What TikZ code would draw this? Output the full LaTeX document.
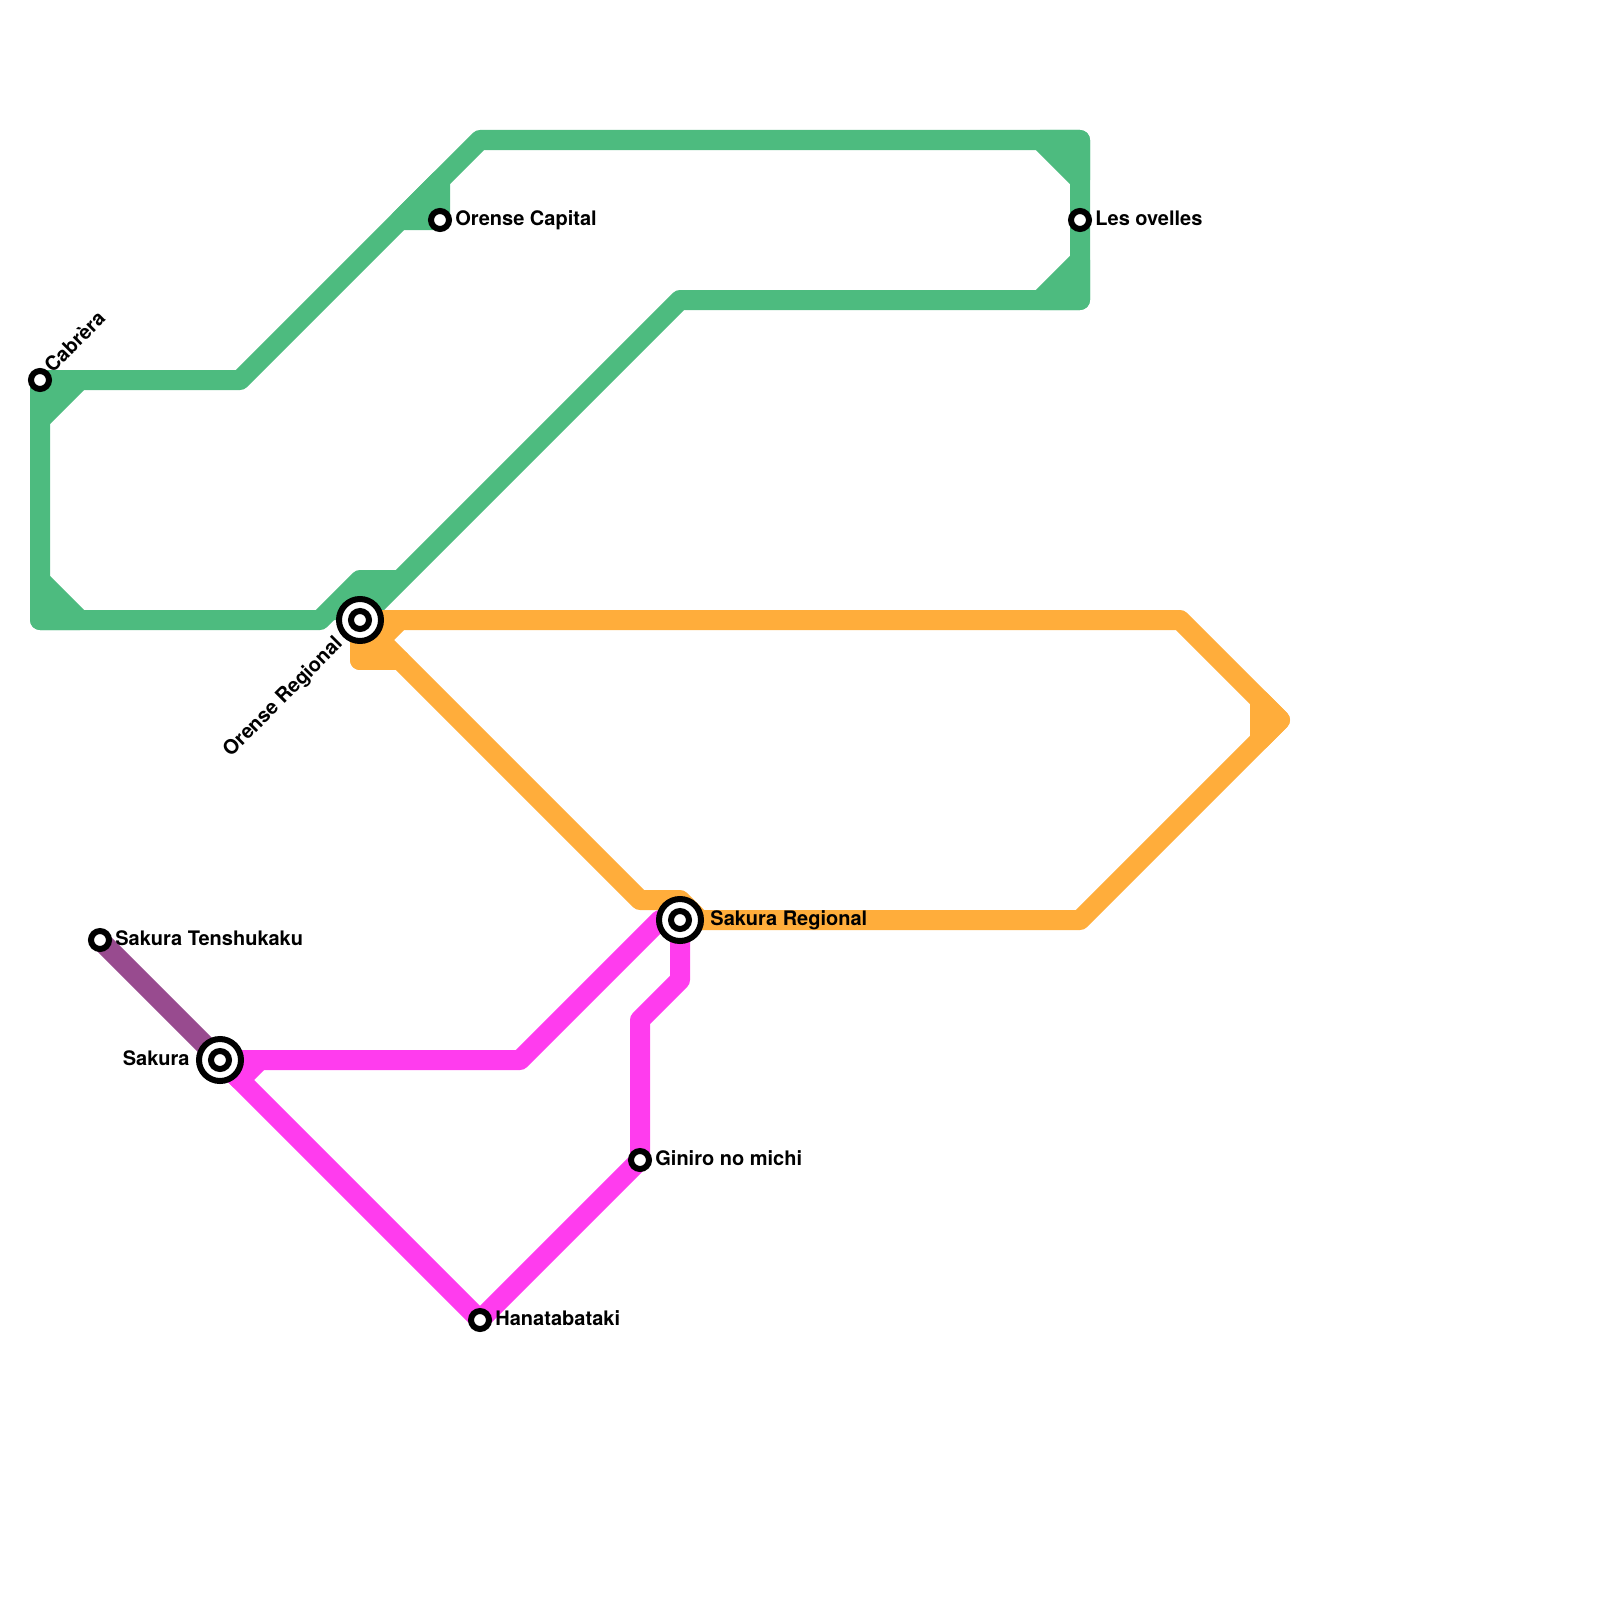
\documentclass[tikz,border=0pt]{standalone}
\usepackage{fontspec}
\setmainfont{TeX Gyre Heros}
\definecolor{lgreen}{HTML}{4DBB7F}
\definecolor{lorange}{HTML}{FFAD3B}
\definecolor{lpink}{HTML}{FF3CEE}
\definecolor{lpurple}{HTML}{984B8F}
\tikzset{
  x=0.5pt,y=-0.5pt,
  metro/.style={line width=10pt,line join=round,line cap=round},
  tube/.style={line width=10pt,line cap=butt},
  smallstn/.style={circle,draw=black,fill=white,line width=3pt,outer sep=0pt,minimum size=9pt,inner sep=0pt},
  bigstn/.style={circle,draw=black,fill=white,line width=3pt,outer sep=0pt,minimum size=21pt,inner sep=0pt},
  stnlabel/.style={font=\fontsize{10pt}{12pt}\selectfont\bfseries,inner sep=0pt,text=black},
}
\begin{document}
\begin{tikzpicture}
\useasboundingbox (0,0) rectangle (1600,1600);
% stations positions
\coordinate (cab) at (40,380);
\coordinate (ore) at (360,620);
\coordinate (cap) at (440,220);
\coordinate (ove) at (1080,220);
\coordinate (ten) at (100,940);
\coordinate (sak) at (220,1060);
\coordinate (reg) at (680,920);
\coordinate (gin) at (640,1160);
\coordinate (han) at (480,1320);
% green
\draw[metro,lgreen] (ore) -- (680,300) -- (1080,300) -- (1080,140) -- (480,140) -- (240,380) -- (cab) -- (40,620) -- (320,620) -- (360,580) -- (396,580);
\draw[metro,lgreen,fill=lgreen] (40,380) -- (40,420) -- (80,380) -- cycle;
\draw[metro,lgreen,fill=lgreen] (40,580) -- (80,620) -- (40,620) -- cycle;
\draw[metro,lgreen,fill=lgreen] (1040,140) -- (1080,180) -- (1080,140) -- cycle;
\draw[metro,lgreen,fill=lgreen] (1040,300) -- (1080,260) -- (1080,300) -- cycle;
\draw[metro,lgreen,fill=lgreen] (cap) -- (400,220) -- (440,180) -- cycle;
\fill[lgreen] (320,620) -- (360,580) -- (400,580) -- (360,620) -- cycle;
% orange
\draw[metro,lorange] (ore) -- (1180,620) -- (1280,720) -- (1080,920) -- (700,920) -- (680,900) -- (640,900) -- (ore);
\draw[metro,lorange,fill=lorange] (360,660) -- (400,620) -- (ore) -- cycle;
\draw[metro,lorange] (360,660) -- (400,660);
\draw[metro,lorange,fill=lorange] (1260,700) -- (1260,740) -- (1280,720) -- cycle;
% purple
\draw[tube,lpurple] (ten) -- (sak);
% pink
\draw[metro,lpink] (sak) -- (520,1060) -- (660,920) -- (reg) -- (680,980) -- (640,1020) -- (gin) -- (han) -- (sak);
\draw[metro,lpink,fill=lpink] (240,1080) -- (260,1060) -- (sak) -- cycle;
% stations
\node[smallstn] (ncab) at (cab) {};
\node[smallstn] (ncap) at (cap) {};
\node[smallstn] (nove) at (ove) {};
\node[smallstn] (nten) at (ten) {};
\node[smallstn] (ngin) at (gin) {};
\node[smallstn] (nhan) at (han) {};
\node[bigstn] (nore) at (ore) {}; \node[smallstn] (nore2) at (ore) {};
\node[bigstn] (nsak) at (sak) {}; \node[smallstn] (nsak2) at (sak) {};
\node[bigstn] (nreg) at (reg) {}; \node[smallstn] (nreg2) at (reg) {};
% labels
\node[stnlabel,anchor=mid west] (tcap) at (455,220) {Orense Capital};
\node[stnlabel,anchor=mid west] (tove) at (1095,220) {Les ovelles};
\node[stnlabel,anchor=mid west] (tten) at (115,940) {Sakura Tenshukaku};
\node[stnlabel,anchor=mid west] (tgin) at (655,1160) {Giniro no michi};
\node[stnlabel,anchor=mid west] (than) at (495,1320) {Hanatabataki};
\node[stnlabel,anchor=mid west] (treg) at (710,920) {Sakura Regional};
\node[stnlabel,anchor=mid east] (tsak) at (190,1060) {Sakura};
\node[stnlabel,anchor=mid west,rotate=45] (tcab) at (49,370) {Cabrèra};
\node[stnlabel,anchor=mid east,rotate=45] (tore) at (340,641) {Orense Regional};
\end{tikzpicture}
\end{document}
